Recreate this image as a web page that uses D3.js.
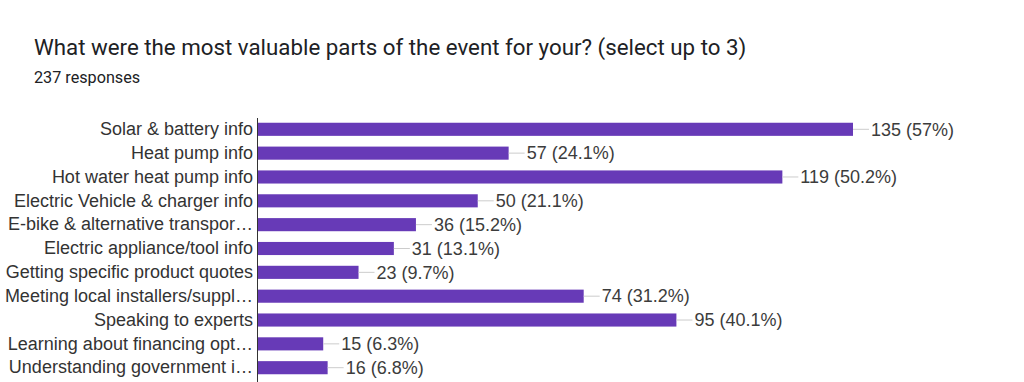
<!DOCTYPE html>
<html><head><meta charset="utf-8">
<script src="https://cdn.jsdelivr.net/npm/d3@7"></script>
<style>body{margin:0;background:#fff}</style>
</head><body>
<svg id="c" width="1024" height="382"></svg>
<script>
const title = "What were the most valuable parts of the event for your? (select up to 3)";
const subtitle = "237 responses";
const totalResponses = 237;
const categories = [
  "Solar & battery info",
  "Heat pump info",
  "Hot water heat pump info",
  "Electric Vehicle & charger info",
  "E-bike & alternative transpor…",
  "Electric appliance/tool info",
  "Getting specific product quotes",
  "Meeting local installers/suppl…",
  "Speaking to experts",
  "Learning about financing opt…",
  "Understanding government i…"
];
const values = [135, 57, 119, 50, 36, 31, 23, 74, 95, 15, 16];

const svg = d3.select("#c");
svg.append("text").attr("x", 34).attr("y", 55)
  .attr("font-family", "Roboto").attr("font-size", 22.3).attr("fill", "#202124").text(title);
svg.append("text").attr("x", 34).attr("y", 83)
  .attr("font-family", "Roboto").attr("font-size", 16.2).attr("fill", "#202124").text(subtitle);

const x0 = 257;
const x = d3.scaleLinear().domain([0, 135]).range([x0, 853]);
const y = d3.scaleBand().domain(categories).range([117.5, 379.5]).paddingInner(0.45).paddingOuter(0.22);

const data = categories.map((c, i) => ({c, v: values[i]}));

svg.append("g").selectAll("rect").data(data).join("rect")
  .attr("x", x0).attr("y", d => y(d.c)).attr("width", d => x(d.v) - x0).attr("height", y.bandwidth())
  .attr("fill", "#673ab7");

// axis
const ax = d3.axisLeft(y).tickSize(0).tickPadding(4);
const g = svg.append("g").attr("transform", `translate(${x0},0)`).call(ax);
g.select(".domain").attr("stroke", "#333").attr("stroke-width", 1);
g.selectAll("text").attr("font-family", "Liberation Sans, Arial").attr("font-size", 18).attr("fill", "#333");
svg.append("line").attr("x1", x0 + 0.5).attr("x2", x0 + 0.5).attr("y1", y.range()[1]).attr("y2", 382)
  .attr("stroke", "#333");

const fmt = v => `${v} (${+(v / totalResponses * 100).toFixed(1)}%)`;
const lab = svg.append("g");
data.forEach(d => {
  const cy = y(d.c) + y.bandwidth() / 2;
  lab.append("line").attr("x1", x(d.v)).attr("x2", x(d.v) + 16).attr("y1", cy).attr("y2", cy)
    .attr("stroke", "#ccc").attr("stroke-width", 1);
  lab.append("text").attr("x", x(d.v) + 18).attr("y", cy).attr("dy", "0.35em")
    .attr("font-family", "Liberation Sans, Arial").attr("font-size", 18).attr("fill", "#3c3c3c")
    .text(fmt(d.v));
});
</script>
</body></html>
